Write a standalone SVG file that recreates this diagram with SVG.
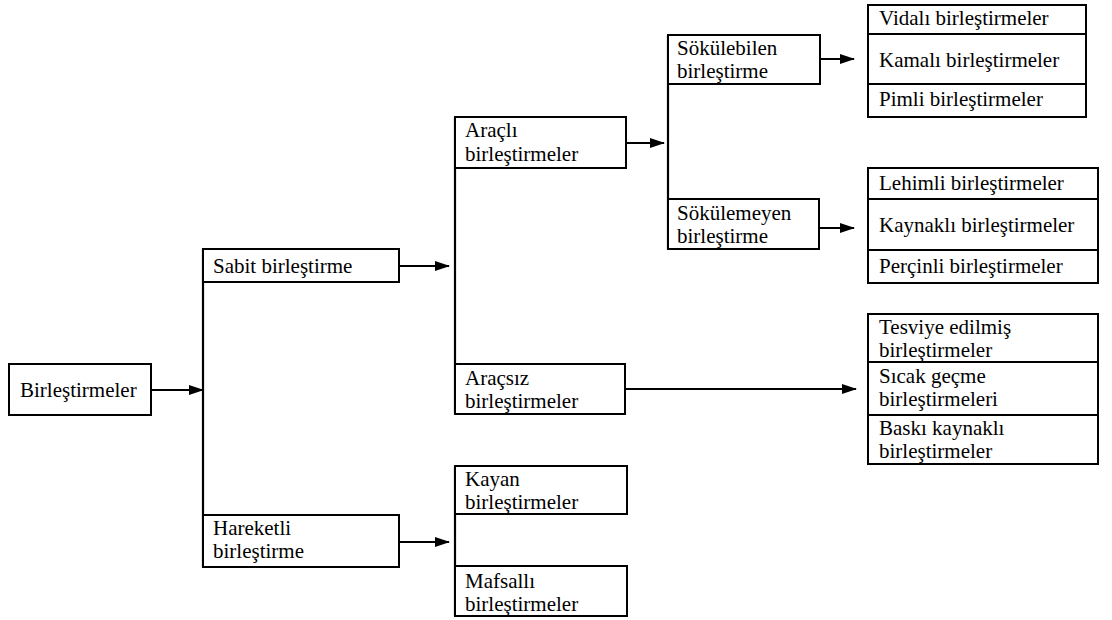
<svg xmlns="http://www.w3.org/2000/svg" width="1112" height="620" viewBox="0 0 1112 620">
<style>
.box{fill:#fff;stroke:#000;stroke-width:2}
text{font-family:'Liberation Serif','Times New Roman',Times,'DejaVu Serif',serif;font-size:21px;fill:#000}
.c{stroke:#000;stroke-width:2.2;fill:none}
.a{stroke:#000;stroke-width:2.2;fill:none;marker-end:url(#ah)}
</style>
<defs>
<marker id="ah" markerUnits="userSpaceOnUse" markerWidth="15" markerHeight="10" refX="14" refY="5" orient="auto">
<path d="M0,0 L15,5 L0,10 z" fill="#000"/>
</marker>
</defs>
<rect width="1112" height="620" fill="#fff"/>
<g id="connectors">
<line class="c" x1="203" y1="249" x2="203" y2="567"/>
<line class="c" x1="455" y1="117" x2="455" y2="414"/>
<line class="c" x1="455" y1="466" x2="455" y2="616"/>
<line class="c" x1="668" y1="35" x2="668" y2="249"/>
<line class="a" x1="151" y1="390" x2="203" y2="390"/>
<line class="a" x1="395" y1="266" x2="449" y2="266"/>
<line class="a" x1="395" y1="542" x2="449" y2="542"/>
<line class="a" x1="618" y1="143" x2="664" y2="143"/>
<line class="a" x1="806" y1="59" x2="854" y2="59"/>
<line class="a" x1="807" y1="228" x2="854" y2="228"/>
<line class="a" x1="618" y1="389" x2="856" y2="389"/>
</g>
<g font-family="Liberation Serif, serif" font-size="21">
<g id="n-birlestirmeler"><rect class="box" x="9" y="364" width="142" height="51"/><text x="20" y="397">Birleştirmeler</text></g>
<g id="n-sabit"><rect class="box" x="203" y="249" width="196" height="33"/><text x="213" y="273">Sabit birleştirme</text></g>
<g id="n-hareketli"><rect class="box" x="203" y="515" width="196" height="52"/><text x="213" y="535">Hareketli</text><text x="213" y="558">birleştirme</text></g>
<g id="n-aracli"><rect class="box" x="455" y="117" width="171" height="51"/><text x="465" y="137">Araçlı</text><text x="465" y="161">birleştirmeler</text></g>
<g id="n-aracsiz"><rect class="box" x="455" y="364" width="170" height="50"/><text x="465" y="385">Araçsız</text><text x="465" y="408">birleştirmeler</text></g>
<g id="n-kayan"><rect class="box" x="455" y="466" width="172" height="48"/><text x="465" y="486">Kayan</text><text x="465" y="509">birleştirmeler</text></g>
<g id="n-mafsalli"><rect class="box" x="455" y="566" width="172" height="50"/><text x="465" y="588">Mafsallı</text><text x="465" y="611">birleştirmeler</text></g>
<g id="n-sokulebilen"><rect class="box" x="668" y="35" width="152" height="49"/><text x="677" y="55">Sökülebilen</text><text x="677" y="78">birleştirme</text></g>
<g id="n-sokulemeyen"><rect class="box" x="668" y="199" width="151" height="50"/><text x="677" y="220">Sökülemeyen</text><text x="677" y="243">birleştirme</text></g>
<g id="n-vidali"><rect class="box" x="868" y="5" width="218" height="29"/><text x="879" y="25">Vidalı birleştirmeler</text></g>
<g id="n-kamali"><rect class="box" x="868" y="34" width="218" height="50"/><text x="879" y="67">Kamalı birleştirmeler</text></g>
<g id="n-pimli"><rect class="box" x="868" y="84" width="218" height="33"/><text x="879" y="106">Pimli birleştirmeler</text></g>
<g id="n-lehimli"><rect class="box" x="868" y="168" width="230" height="31"/><text x="879" y="190">Lehimli birleştirmeler</text></g>
<g id="n-kaynakli"><rect class="box" x="868" y="199" width="230" height="51"/><text x="879" y="232">Kaynaklı birleştirmeler</text></g>
<g id="n-percinli"><rect class="box" x="868" y="250" width="230" height="33"/><text x="879" y="273">Perçinli birleştirmeler</text></g>
<g id="n-tesviye"><rect class="box" x="868" y="314" width="230" height="48"/><text x="879" y="334">Tesviye edilmiş</text><text x="879" y="357">birleştirmeler</text></g>
<g id="n-sicak"><rect class="box" x="868" y="362" width="230" height="53"/><text x="879" y="383">Sıcak geçme</text><text x="879" y="406">birleştirmeleri</text></g>
<g id="n-baski"><rect class="box" x="868" y="415" width="230" height="49"/><text x="879" y="435">Baskı kaynaklı</text><text x="879" y="458">birleştirmeler</text></g>
</g>
</svg>
